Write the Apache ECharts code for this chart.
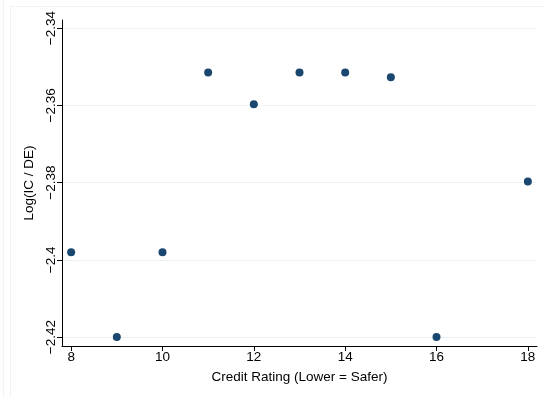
<!DOCTYPE html>
<html><head><meta charset="utf-8">
<script src="https://cdn.jsdelivr.net/npm/echarts@6/dist/echarts.min.js"></script>
<style>html,body{margin:0;padding:0;background:#fff}#c{width:544px;height:397px}</style>
</head><body><div id="c"></div>
<script>
const ratings = [8, 9, 10, 11, 12, 13, 14, 15, 16, 18];
const logICDE = [-2.398, -2.42, -2.398, -2.3515, -2.3597, -2.3515, -2.3515, -2.3527, -2.42, -2.3797];
const xTicks = [8, 10, 12, 14, 16, 18];
const yTicks = [-2.42, -2.40, -2.38, -2.36, -2.34];
const yTickLabels = ['\u22122.42', '\u22122.4', '\u22122.38', '\u22122.36', '\u22122.34'];

const chart = echarts.init(document.getElementById('c'), null, {renderer: 'canvas'});
const font = 'Liberation Sans, Arial, Helvetica, sans-serif';
chart.setOption({
  animation: false,
  backgroundColor: '#fff',
  graphic: [
    {type: 'line', shape: {x1: 3.5, y1: 0, x2: 3.5, y2: 397}, style: {stroke: '#eef3f3', lineWidth: 1}, silent: true},
    {type: 'line', shape: {x1: 10.5, y1: 6, x2: 10.5, y2: 397}, style: {stroke: '#eef3f3', lineWidth: 1}, silent: true},
    {type: 'line', shape: {x1: 10, y1: 6.5, x2: 544, y2: 6.5}, style: {stroke: '#eef3f3', lineWidth: 1}, silent: true}
  ],
  grid: {left: 62, top: 20, right: 7, bottom: 51, containLabel: false},
  xAxis: {
    type: 'value', min: 7.8, max: 18.2,
    name: 'Credit Rating (Lower = Safer)', nameLocation: 'middle', nameGap: 24,
    nameTextStyle: {fontFamily: font, fontSize: 13.5, color: '#000'},
    axisLine: {show: true, lineStyle: {color: '#000', width: 1}},
    axisTick: {show: true, length: 5, lineStyle: {color: '#000'}, customValues: xTicks},
    axisLabel: {customValues: xTicks, fontFamily: font, fontSize: 13.5, color: '#000', margin: 4},
    splitLine: {show: false}
  },
  yAxis: {
    type: 'value', min: -2.4223, max: -2.3379,
    name: 'Log(IC / DE)', nameLocation: 'middle', nameGap: 26, nameRotate: 90,
    nameTextStyle: {fontFamily: font, fontSize: 13.5, color: '#000'},
    axisLine: {show: true, lineStyle: {color: '#000', width: 1}},
    axisTick: {show: true, length: 5, lineStyle: {color: '#000'}, customValues: yTicks},
    axisLabel: {customValues: yTicks, rotate: 90, fontFamily: font, fontSize: 13.5, color: '#000', margin: 4,
      formatter: function (v) { const i = yTicks.findIndex(t => Math.abs(t - v) < 1e-6); return i >= 0 ? yTickLabels[i] : ''; }},
    splitLine: {show: true, lineStyle: {color: '#eaf2f3', width: 1}}
  },
  series: [{
    type: 'scatter',
    data: ratings.map((r, i) => [r, logICDE[i]]),
    symbol: 'circle', symbolSize: 8,
    itemStyle: {color: '#1a476f', opacity: 1}
  }]
});
</script></body></html>
